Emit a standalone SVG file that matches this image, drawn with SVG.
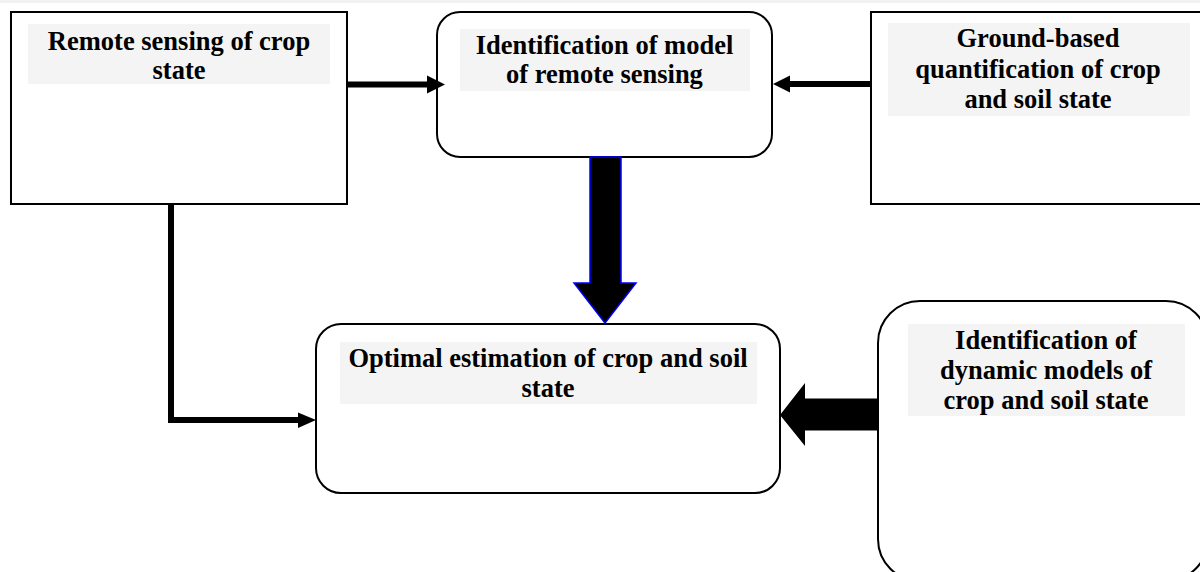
<svg xmlns="http://www.w3.org/2000/svg" width="1200" height="572" viewBox="0 0 1200 572">
<style>
.box{fill:#ffffff;stroke:#000000;stroke-width:2}
.tbg{fill:#f4f4f4}
.lbl{font-family:"Liberation Serif","Times New Roman",serif;font-weight:bold;font-size:26.5px;fill:#000000;text-anchor:middle}
.ln{fill:none;stroke:#000000;stroke-width:6}
.hd{fill:#000000}
</style>
<rect x="0" y="0" width="1200" height="572" fill="#ffffff"/>
<rect x="0" y="0" width="1200" height="3" fill="#f2f2f2"/>
<g id="node-remote-sensing">
<rect class="box" x="11" y="12" width="336" height="192"/>
<rect class="tbg" x="28" y="24" width="302" height="60"/>
<text class="lbl" x="179" y="49.5">Remote sensing of crop</text>
<text class="lbl" x="179" y="78.5">state</text>
</g>
<g id="node-identification-model">
<rect class="box" x="437" y="12" width="335" height="145" rx="23" ry="23"/>
<rect class="tbg" x="460" y="29" width="290" height="62"/>
<text class="lbl" x="604.5" y="54">Identification of model</text>
<text class="lbl" x="604.5" y="83">of remote sensing</text>
</g>
<g id="node-ground-based">
<rect class="box" x="871" y="12" width="340" height="192"/>
<rect class="tbg" x="888" y="23" width="302" height="93"/>
<text class="lbl" x="1038" y="47">Ground-based</text>
<text class="lbl" x="1038" y="77.5">quantification of crop</text>
<text class="lbl" x="1038" y="108">and soil state</text>
</g>
<g id="node-optimal-estimation">
<rect class="box" x="316" y="324" width="464" height="169" rx="25" ry="25"/>
<rect class="tbg" x="340" y="342" width="417" height="62"/>
<text class="lbl" x="548" y="367">Optimal estimation of crop and soil</text>
<text class="lbl" x="548" y="397">state</text>
</g>
<g id="node-dynamic-models">
<rect class="box" x="878" y="301" width="330" height="280" rx="42" ry="42"/>
<rect class="tbg" x="908" y="324" width="277" height="92"/>
<text class="lbl" x="1046" y="348.5">Identification of</text>
<text class="lbl" x="1046" y="378.5">dynamic models of</text>
<text class="lbl" x="1046" y="408.5">crop and soil state</text>
</g>
<g id="connectors">
<line class="ln" x1="347" y1="84.5" x2="430" y2="84.5"/>
<polygon class="hd" points="427,75.5 445,84.5 427,93.5"/>
<line class="ln" x1="871" y1="84" x2="787" y2="84"/>
<polygon class="hd" points="790,75.5 773,84 790,92.5"/>
<polygon points="590,157 621,157 621,283 636,283 605,323 574,283 590,283" fill="#000000" stroke="#0000ff" stroke-width="1.5"/>
<polyline class="ln" points="171,204 171,420 300,420"/>
<polygon class="hd" points="298,412.5 316,420 298,428"/>
<polygon class="hd" points="878,398.5 805,398.5 805,383 780,415 805,446 805,430.5 878,430.5"/>
</g>
</svg>
